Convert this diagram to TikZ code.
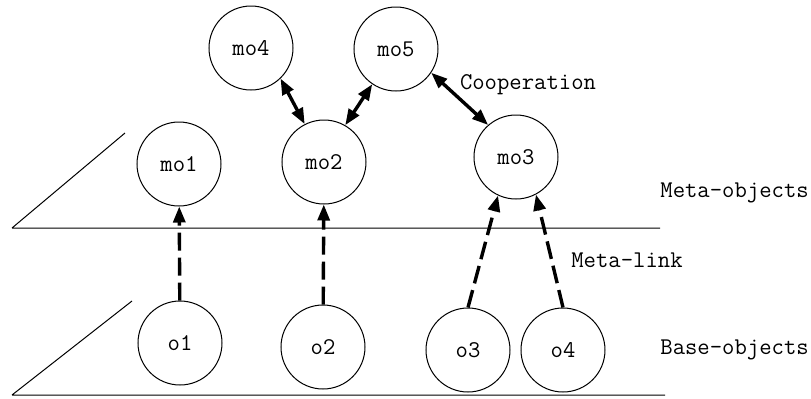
\documentclass[tikz,border=0pt]{standalone}
\usepackage{fontspec}
\usetikzlibrary{arrows.meta}
\begin{document}
\begin{tikzpicture}[x=0.5pt,y=-0.5pt,
  obj/.style={circle,draw=black,line width=0.5pt,minimum size=42pt,inner sep=0pt,font=\ttfamily\fontsize{12}{14}\selectfont},
  coop/.style={{Triangle[length=8pt,width=6pt]}-{Triangle[length=8pt,width=6pt]},line width=1.7pt},
  mlink/.style={-{Triangle[length=8pt,width=6pt]},line width=1.7pt,dash pattern=on 9pt off 3.5pt},
  lbl/.style={font=\ttfamily\fontsize{12}{14}\selectfont,inner sep=0pt}]
\useasboundingbox (0,0) rectangle (811,398);
\node[obj] (mo4) at (251,48) {mo4};
\node[obj] (mo5) at (396,49) {mo5};
\node[obj] (mo1) at (179,164) {mo1};
\node[obj] (mo2) at (324,162) {mo2};
\node[obj] (mo3) at (516,157) {mo3};
\node[obj] (o1) at (180,343) {o1};
\node[obj] (o2) at (323,347) {o2};
\node[obj] (o3) at (468,350) {o3};
\node[obj] (o4) at (563,350) {o4};
\node[lbl] (coop) at (528,85) {Cooperation};
\node[lbl] (mlink) at (627,260) {Meta-link};
\node[lbl,anchor=west] (metaobj) at (660,193) {Meta-objects};
\node[lbl,anchor=west] (baseobj) at (660,350) {Base-objects};
% levels
\draw[line width=0.5pt] (12,228) -- (125,133) (12,228) -- (660,228);
\draw[line width=0.5pt] (12,395) -- (132,301) (12,395) -- (665,395);
% cooperation
\draw[coop] (mo4.-46) -- (mo2.117);
\draw[coop] (mo5.-124) -- (mo2.60);
\draw[coop] (mo5.-34) -- (mo3.131);
% meta-links
\draw[mlink] (o1) -- (mo1);
\draw[mlink] (o2) -- (mo2);
\draw[mlink] (o3.north) -- (mo3.-115);
\draw[mlink] (o4.north) -- (mo3.-62);
\end{tikzpicture}
\end{document}
